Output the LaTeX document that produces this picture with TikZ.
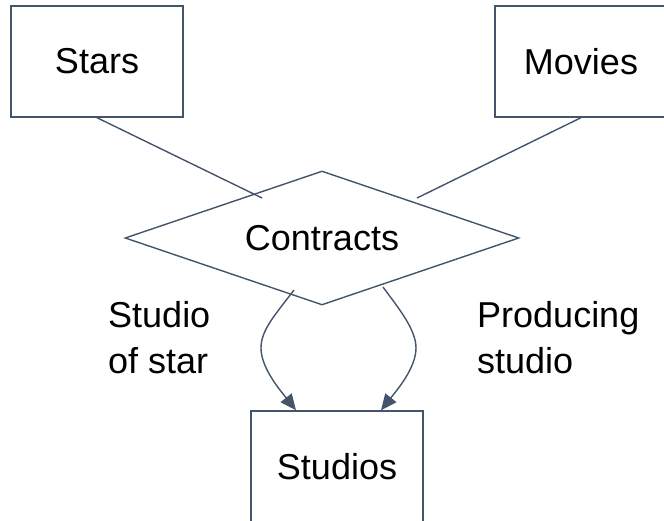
\documentclass[tikz,border=0pt]{standalone}
\usepackage{fontspec}
\setmainfont{Liberation Sans}
\usetikzlibrary{shapes.geometric,arrows.meta}
\definecolor{linec}{HTML}{44546A}
\tikzset{
  ent/.style={draw=linec, line width=1.4pt, rectangle, minimum width=172pt, minimum height=111pt, inner sep=0pt, font=\fontsize{36}{46}\selectfont},
  rel/.style={draw=linec, line width=1.4pt, diamond, aspect=2.94, minimum width=394pt, minimum height=134pt, inner sep=0pt, font=\fontsize{36}{46}\selectfont},
  lbl/.style={align=left, inner sep=0pt, anchor=north west, font=\fontsize{36}{46}\selectfont},
  conn/.style={draw=linec, line width=1.4pt},
  arr/.style={conn, -{Triangle[length=16pt,width=14pt]}}
}
\begin{document}
\begin{tikzpicture}[x=1pt,y=-1pt]
\useasboundingbox (0,0) rectangle (664,521);
\node[ent] (stars) at (97,61.5) {Stars};
\node[ent] (movies) at (581,61.5) {Movies};
\node[ent] (studios) at (337,466.5) {Studios};
\node[rel] (contracts) at (322,238) {Contracts};
\coordinate (sc) at (262,198);
\coordinate (mc) at (417,198);
\coordinate (ls) at (294,290);
\coordinate (rs) at (383,287);
\draw[conn] (stars.south) -- (sc);
\draw[conn] (movies.south) -- (mc);
\draw[arr] (ls) .. controls (275,315) and (261,330) .. (261,348)
  .. controls (261,368) and (280,390) .. (studios.north -| 296,0);
\draw[arr] (rs) .. controls (400,310) and (416,330) .. (416,348)
  .. controls (416,368) and (397,390) .. (studios.north -| 381,0);
\node[lbl] (lstar) at (108,301) {Studio\\of star};
\node[lbl] (lprod) at (477,301) {Producing\\studio};
\end{tikzpicture}
\end{document}
